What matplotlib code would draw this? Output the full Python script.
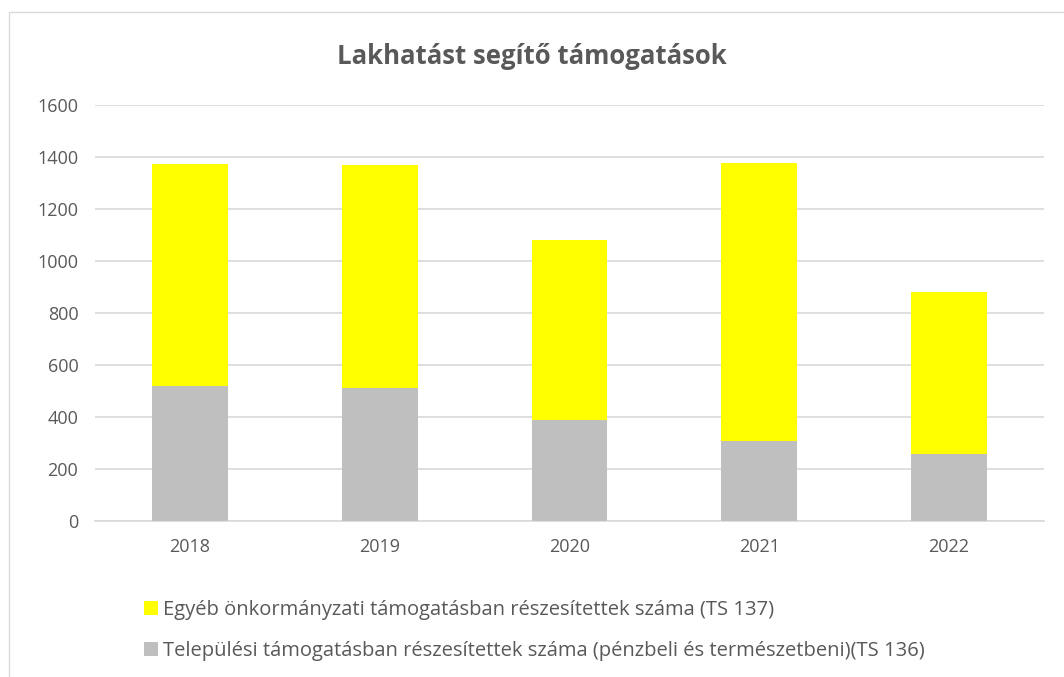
import matplotlib.pyplot as plt
from matplotlib.patches import Rectangle
import numpy as np

years = ['2018', '2019', '2020', '2021', '2022']
telepulesi = [520, 513, 390, 309, 256]
egyeb = [854, 856, 691, 1068, 624]

lab_egyeb = 'Egyéb önkormányzati támogatásban részesítettek száma (TS 137)'
lab_tel = 'Települési támogatásban részesítettek száma (pénzbeli és természetbeni)(TS 136)'

plt.rcParams['font.family'] = ['Open Sans', 'DejaVu Sans']
txt = '#595959'

fig = plt.figure(figsize=(10.64, 6.77), dpi=100)
ax = fig.add_axes([95/1064, 1-521/677, (1044-95)/1064, (521-105)/677])

x = np.arange(len(years))
b1 = ax.bar(x, telepulesi, width=0.4, color='#bfbfbf', zorder=3)
b2 = ax.bar(x, egyeb, width=0.4, bottom=telepulesi, color='#ffff00', zorder=3)

ax.set_ylim(0, 1600)
ax.set_xlim(-0.5, 4.5)
ax.set_yticks(range(0, 1601, 200))
ax.set_xticks(x)
ax.set_xticklabels(years)
ax.yaxis.grid(True, color='#d9d9d9', linewidth=1.2, zorder=0)
for s in ['top', 'right', 'left']:
    ax.spines[s].set_visible(False)
ax.spines['bottom'].set_color('#d9d9d9')
ax.spines['bottom'].set_linewidth(1.2)
ax.tick_params(length=0, labelsize=13, colors=txt, pad=12)
ax.tick_params(axis='x', pad=12)

fig.text(0.5, 1-57/677, 'Lakhatást segítő támogatások', ha='center', va='center',
         fontsize=18.5, fontweight='bold', color=txt)

fig.legend([b2, b1], [lab_egyeb, lab_tel], loc='upper left',
           bbox_to_anchor=(126/1064, 1-582/677), frameon=False, fontsize=14.5,
           labelcolor=txt, handlelength=0.7, handleheight=0.7, handletextpad=0.25,
           labelspacing=1.05)

fig.patches.append(Rectangle((9/1064, -0.05), 1.2, 1-12/677+0.05, transform=fig.transFigure,
                             fill=False, edgecolor='#d9d9d9', linewidth=1))

fig.savefig('out.png', dpi=100)
